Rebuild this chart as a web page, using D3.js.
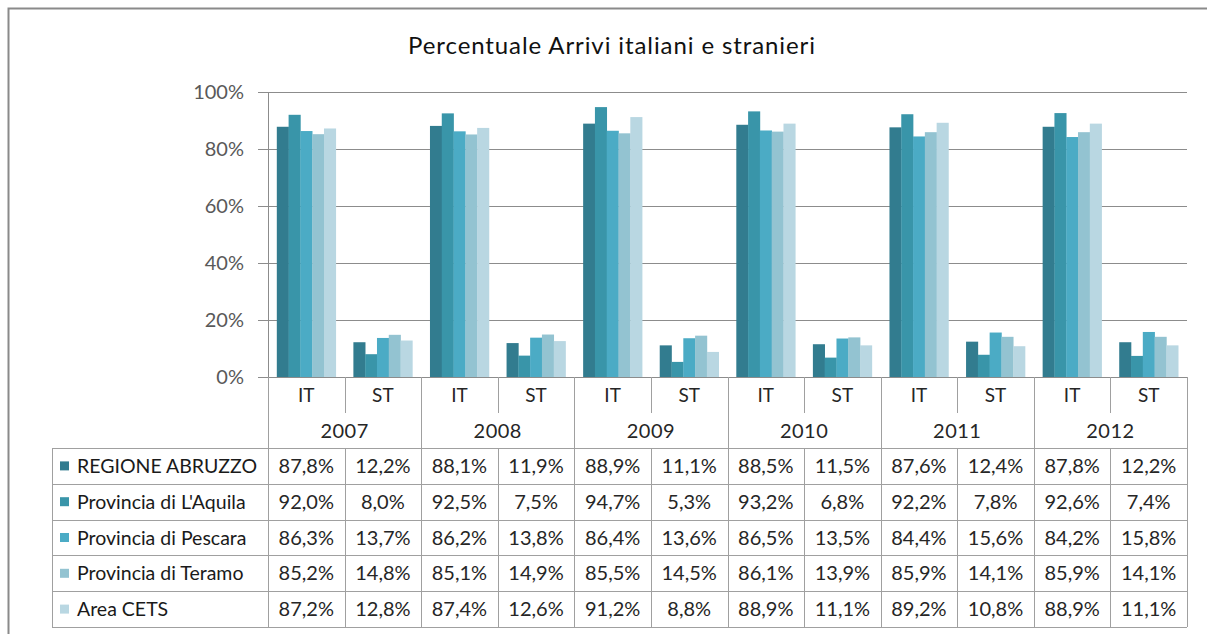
<!DOCTYPE html>
<html><head><meta charset="utf-8">
<script src="https://cdn.jsdelivr.net/npm/d3@7"></script>
<style>
html,body{margin:0;padding:0;background:#fff;}
svg{display:block;font-family:Lato,"Open Sans",sans-serif;}
</style></head>
<body><svg id="chart" width="1207" height="634"></svg>
<script>
const title = "Percentuale Arrivi italiani e stranieri";
const years = ["2007","2008","2009","2010","2011","2012"];
const subCats = ["IT","ST"];
const seriesNames = ["REGIONE ABRUZZO","Provincia di L'Aquila","Provincia di Pescara","Provincia di Teramo","Area CETS"];
const regioneAbruzzo = [87.8,12.2,88.1,11.9,88.9,11.1,88.5,11.5,87.6,12.4,87.8,12.2];
const provLAquila    = [92.0,8.0,92.5,7.5,94.7,5.3,93.2,6.8,92.2,7.8,92.6,7.4];
const provPescara    = [86.3,13.7,86.2,13.8,86.4,13.6,86.5,13.5,84.4,15.6,84.2,15.8];
const provTeramo     = [85.2,14.8,85.1,14.9,85.5,14.5,86.1,13.9,85.9,14.1,85.9,14.1];
const areaCETS       = [87.2,12.8,87.4,12.6,91.2,8.8,88.9,11.1,89.2,10.8,88.9,11.1];
const yTicks = [0,0.2,0.4,0.6,0.8,1.0];
const colors = ["#327C8F","#3995A9","#4BABC5","#93C3D1","#B9D7E2"];

const seriesValues = [regioneAbruzzo, provLAquila, provPescara, provTeramo, areaCETS];
const cats = [];
years.forEach(y => subCats.forEach(s => cats.push(y + "|" + s)));

const svg = d3.select("#chart");
const gridColor = "#8c8c8c", tableColor = "#a0a0a0";

// outer frame
svg.append("path").attr("d","M8.5,634 V8.5 H1207").attr("fill","none").attr("stroke","#8a8a8a").attr("stroke-width",2);

// title
svg.append("text").attr("x",612).attr("y",54).attr("text-anchor","middle")
  .attr("font-size",24).attr("letter-spacing",0.9).attr("fill","#111").text(title);

const x0 = 268, x1 = 1187, yTop = 92, yBase = 377;
const x = d3.scaleBand().domain(cats).range([x0,x1]).padding(0);
const bw = x.bandwidth();
const xs = d3.scaleBand().domain(seriesNames).range([bw*0.115, bw*0.885]).padding(0);
const y = d3.scaleLinear().domain([0,1]).range([yBase,yTop]);

// gridlines + y axis
const yAxis = d3.axisLeft(y).tickValues(yTicks).tickFormat(d3.format(".0%")).tickSize(10).tickPadding(14);
const ga = svg.append("g").attr("transform",`translate(${x0},0)`).call(yAxis);
ga.select(".domain").attr("stroke",gridColor);
ga.selectAll(".tick line").attr("stroke",gridColor);
ga.selectAll(".tick text").attr("font-size",20).attr("fill","#595959").attr("font-family","Lato");
svg.append("g").selectAll("line").data(yTicks.filter(t=>t>0)).join("line")
  .attr("x1",x0).attr("x2",x1).attr("y1",d=>Math.round(y(d))+0.5).attr("y2",d=>Math.round(y(d))+0.5)
  .attr("stroke",gridColor);

// bars
seriesNames.forEach((name,si) => {
  svg.append("g").selectAll("rect").data(seriesValues[si]).join("rect")
    .attr("x",(d,i)=>x(cats[i]) + xs(name))
    .attr("width",xs.bandwidth()+0.3)
    .attr("y",d=>y(d/100))
    .attr("height",d=>yBase - y(d/100))
    .attr("fill",colors[si]);
});

// baseline
svg.append("line").attr("x1",x0).attr("x2",x1).attr("y1",yBase+0.5).attr("y2",yBase+0.5).attr("stroke",gridColor);

// table
const tTop = 448, tBot = 627, tLeft = 52;
const row = d3.scaleBand().domain(seriesNames).range([tTop,tBot]);
const fmt = d3.formatLocale({decimal:",",thousands:".",grouping:[3],currency:["","€"]}).format(".1f");
const tg = svg.append("g");
const hl = [tTop].concat(seriesNames.map(n=>row(n)+row.bandwidth()));
tg.selectAll("line.h").data(hl).join("line").attr("class","h")
  .attr("x1",tLeft).attr("x2",x1).attr("y1",d=>Math.round(d)+0.5).attr("y2",d=>Math.round(d)+0.5)
  .attr("stroke",tableColor);
tg.selectAll("line.v").data([tLeft].concat(cats.map(c=>x(c))).concat([x1])).join("line").attr("class","v")
  .attr("x1",d=>Math.round(d)+0.5).attr("x2",d=>Math.round(d)+0.5).attr("y1",tTop).attr("y2",tBot)
  .attr("stroke",tableColor);
const yearX = years.map(yr=>x(yr+"|IT")).concat([x1]);
tg.selectAll("line.yv").data(yearX).join("line").attr("class","yv")
  .attr("x1",d=>Math.round(d)+0.5).attr("x2",d=>Math.round(d)+0.5).attr("y1",yBase).attr("y2",tTop)
  .attr("stroke",tableColor);
tg.selectAll("line.sv").data(years.map(yr=>x(yr+"|ST"))).join("line").attr("class","sv")
  .attr("x1",d=>Math.round(d)+0.5).attr("x2",d=>Math.round(d)+0.5).attr("y1",yBase).attr("y2",413)
  .attr("stroke",tableColor);
tg.selectAll("text.sub").data(cats).join("text").attr("class","sub")
  .attr("x",d=>x(d)+bw/2).attr("y",402).attr("text-anchor","middle")
  .attr("font-size",19).attr("fill","#262626").text(d=>d.split("|")[1]);
tg.selectAll("text.yr").data(years).join("text").attr("class","yr")
  .attr("x",d=>x(d+"|IT")+bw).attr("y",438).attr("text-anchor","middle")
  .attr("font-size",20).attr("letter-spacing",0.5).attr("fill","#262626").text(d=>d);
seriesNames.forEach((name,si)=>{
  const cy = row(name)+row.bandwidth()/2;
  tg.append("rect").attr("x",60).attr("y",cy-4.5).attr("width",9).attr("height",9).attr("fill",colors[si]);
  tg.append("text").attr("x",77).attr("y",cy+7).attr("font-size",19.5).attr("fill","#1a1a1a").text(name);
  tg.append("g").selectAll("text").data(seriesValues[si]).join("text")
    .attr("x",(d,i)=>x(cats[i])+bw/2).attr("y",cy+7).attr("text-anchor","middle")
    .attr("font-size",20).attr("fill","#262626").text(d=>fmt(d)+"%");
});
</script>
</body></html>
